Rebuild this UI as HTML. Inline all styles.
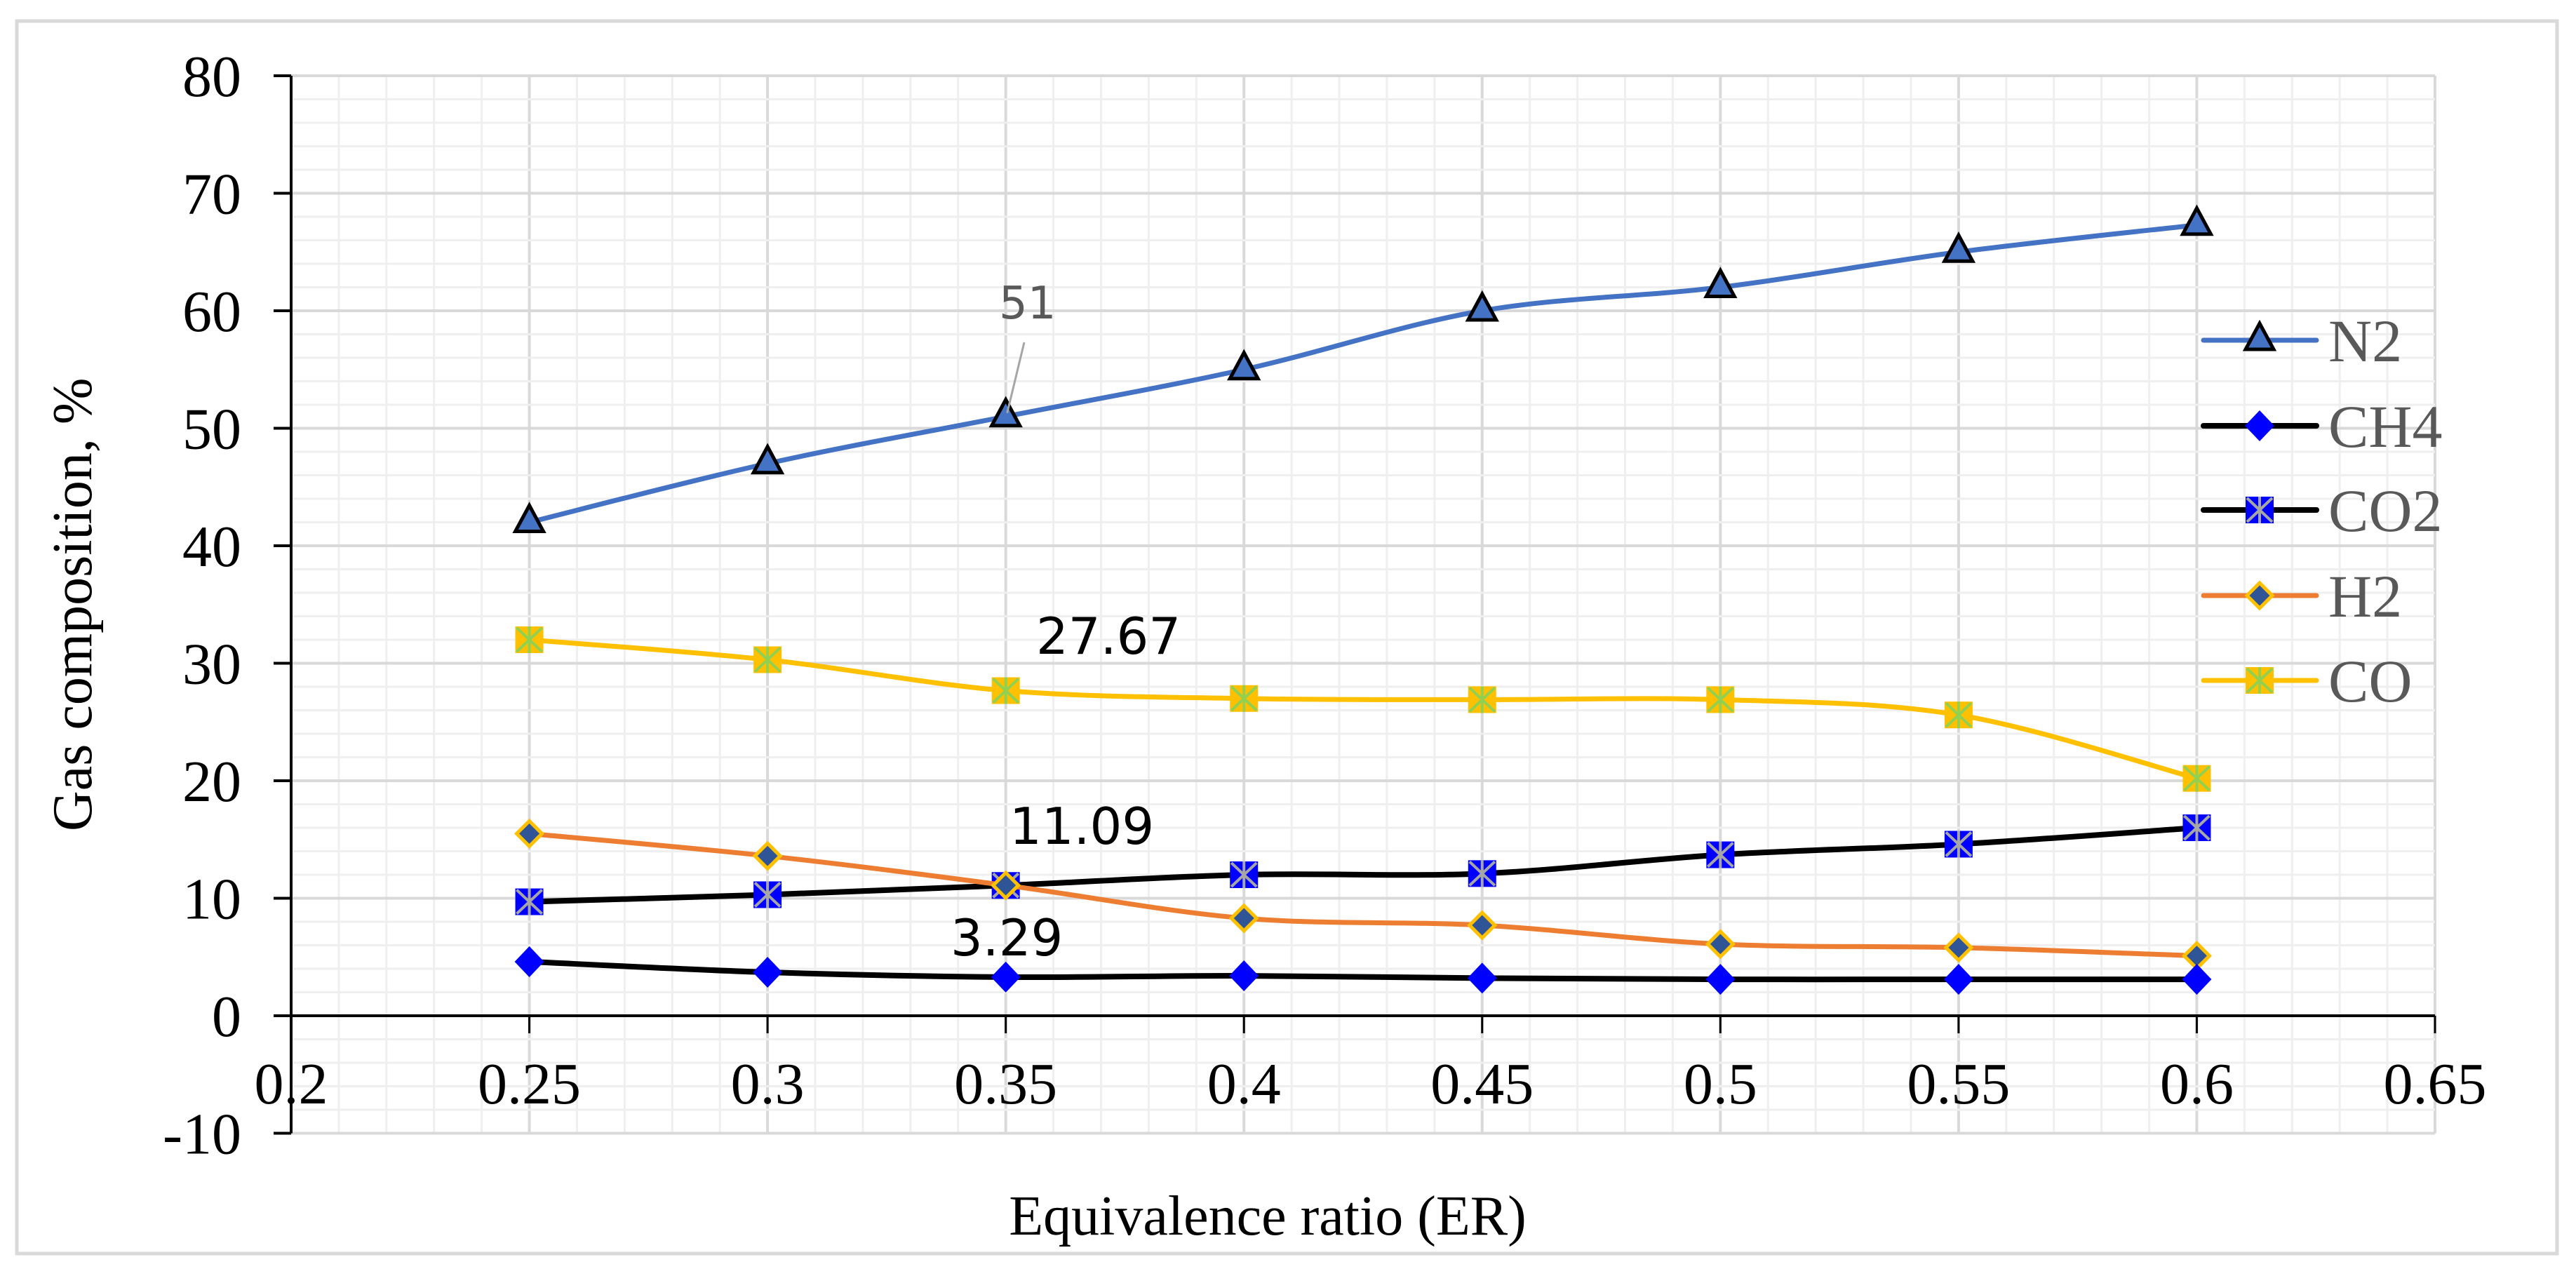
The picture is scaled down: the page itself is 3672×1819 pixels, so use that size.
<!DOCTYPE html>
<html><head><meta charset="utf-8"><style>
html,body{margin:0;padding:0;background:#fff;}
svg{display:block;}
</style></head><body>
<svg id="chart" width="3672" height="1819" viewBox="0 0 3672 1819" xmlns="http://www.w3.org/2000/svg">
<rect x="24" y="30" width="3621" height="1757" fill="#fff" stroke="#d9d9d9" stroke-width="5"/>
<g id="grid"></g>
<g id="axes"></g>
<g id="series"></g>
<g id="labels"></g>
<g id="legend"></g>
</svg>
<script>
const categories = [0.25,0.3,0.35,0.4,0.45,0.5,0.55,0.6];
const seriesNames = ["N2","CH4","CO2","H2","CO"];
const n2 = [42,47,51,55,60,62,65,67.3];
const ch4 = [4.6,3.7,3.29,3.4,3.2,3.1,3.1,3.1];
const co2 = [9.7,10.3,11.09,12,12.1,13.7,14.6,16];
const h2 = [15.5,13.6,11.1,8.3,7.7,6.1,5.8,5.1];
const co = [32,30.3,27.67,27,26.9,26.9,25.6,20.2];
const yTicks = [-10,0,10,20,30,40,50,60,70,80];
const xTicks = ["0.2","0.25","0.3","0.35","0.4","0.45","0.5","0.55","0.6","0.65"];

const NS="http://www.w3.org/2000/svg";
const X0=415, X1=3471, XMIN=0.2, XMAX=0.65;
const Y0=1448, PER=16.75;
function sx(v){return X0+(v-XMIN)/(XMAX-XMIN)*(X1-X0);}
function sy(v){return Y0-v*PER;}
function mk(tag,attrs,parent){const e=document.createElementNS(NS,tag);for(const k in attrs)e.setAttribute(k,attrs[k]);parent.appendChild(e);return e;}
const grid=document.getElementById('grid'),axes=document.getElementById('axes'),ser=document.getElementById('series'),lab=document.getElementById('labels'),leg=document.getElementById('legend');

for(let i=1;i<45;i++){const v=XMIN+i*0.01;const major=(i%5===0);
 const l=mk('line',{x1:sx(v),x2:sx(v),y1:sy(80),y2:sy(-10),stroke:major?'#d9d9d9':'#efefef','stroke-width':major?4:3},grid);
 
 }
{const l=mk('line',{x1:X1,x2:X1,y1:sy(80),y2:sy(-10),stroke:'#d9d9d9','stroke-width':4},grid);
 }
for(let v=-10;v<=80;v+=2){const major=(v%10===0);
 const l=mk('line',{x1:X0,x2:X1,y1:sy(v),y2:sy(v),stroke:major?'#d9d9d9':'#efefef','stroke-width':major?4:3},grid);
 
 }

{const a=mk('line',{x1:X0,x2:X0,y1:sy(80),y2:sy(-10),stroke:'#000','stroke-width':4},axes);

const b=mk('line',{x1:X0,x2:X1,y1:sy(0),y2:sy(0),stroke:'#000','stroke-width':4},axes);
}
yTicks.forEach(v=>{
 const t=mk('line',{x1:X0-25,x2:X0,y1:sy(v),y2:sy(v),stroke:'#000','stroke-width':4},axes);
 
 const tx=mk('text',{x:344,y:sy(v)+29,'text-anchor':'end','font-family':'Liberation Serif, serif','font-size':84,fill:'#000'},axes);
 tx.textContent=String(v);
 });
xTicks.forEach(s=>{const v=parseFloat(s);
 if(v>XMIN+0.001){const t=mk('line',{x1:sx(v),x2:sx(v),y1:sy(0),y2:sy(0)+25,stroke:'#000','stroke-width':3},axes);
 }
 const tx=mk('text',{x:sx(v),y:1573,'text-anchor':'middle','font-family':'Liberation Serif, serif','font-size':84,fill:'#000'},axes);
 tx.textContent=s;
 });
{const t=mk('text',{x:1807,y:1760,'text-anchor':'middle','font-family':'Liberation Serif, serif','font-size':80,fill:'#000'},axes);
t.textContent='Equivalence ratio (ER)';
const u=mk('text',{x:0,y:0,'text-anchor':'middle','font-family':'Liberation Serif, serif','font-size':80,fill:'#000',transform:'translate(130,'+sy(35)+') rotate(-90)'},axes);
u.textContent='Gas composition, %';}

function smoothPath(pts){let d='M'+pts[0][0]+','+pts[0][1];
 for(let i=0;i<pts.length-1;i++){const p0=pts[i-1]||pts[i],p1=pts[i],p2=pts[i+1],p3=pts[i+2]||p2;const k=1/6;
 d+=' C'+(p1[0]+(p2[0]-p0[0])*k)+','+(p1[1]+(p2[1]-p0[1])*k)+' '+(p2[0]-(p3[0]-p1[0])*k)+','+(p2[1]-(p3[1]-p1[1])*k)+' '+p2[0]+','+p2[1];}
 return d;}

function marker(type,x,y,parent){const g=mk('g',{},parent);
 if(type==='tri'){mk('polygon',{points:(x)+','+(y-24)+' '+(x+20)+','+(y+13)+' '+(x-20)+','+(y+13),fill:'#4472C4',stroke:'#000','stroke-width':5,'stroke-linejoin':'miter'},g);}
 else if(type==='dia'){mk('polygon',{points:x+','+(y-22)+' '+(x+21)+','+y+' '+x+','+(y+22)+' '+(x-21)+','+y,fill:'#0000FF'},g);}
 else if(type==='dia2'){mk('polygon',{points:x+','+(y-18)+' '+(x+18)+','+y+' '+x+','+(y+18)+' '+(x-18)+','+y,fill:'#2F5597',stroke:'#FFC000','stroke-width':5},g);}
 else {const fill=type==='sqb'?'#0000FF':'#FFC000',st=type==='sqb'?'#A6A6A6':'#92D050';
  mk('rect',{x:x-20,y:y-19,width:40,height:38,fill:fill},g);
  mk('path',{d:'M'+(x-18)+','+(y-17)+'L'+(x+18)+','+(y+17)+'M'+(x+18)+','+(y-17)+'L'+(x-18)+','+(y+17)+'M'+x+','+(y-19)+'L'+x+','+(y+19),stroke:st,'stroke-width':4},g);}
 return g;}

const defs=[{name:'n2',data:n2,color:'#4472C4',m:'tri',w:7},{name:'ch4',data:ch4,color:'#000',m:'dia',w:8},
 {name:'co2',data:co2,color:'#000',m:'sqb',w:8},{name:'h2',data:h2,color:'#ED7D31',m:'dia2',w:7},{name:'co',data:co,color:'#FFC000',m:'sqy',w:7}];
const drawOrder=[4,2,3,1,0];
drawOrder.forEach(i=>{const s=defs[i];const g=mk('g',{},ser);
 
 const pts=categories.map((c,j)=>[sx(c),sy(s.data[j])]);
 const p=mk('path',{d:smoothPath(pts),fill:'none',stroke:s.color,'stroke-width':s.w,'stroke-linecap':'round'},g);
 
 pts.forEach(pt=>{const m=marker(s.m,pt[0],pt[1],g);
  });});

{const ln=mk('line',{x1:1460,y1:488,x2:sx(0.35)+2,y2:sy(51)-5,stroke:'#A6A6A6','stroke-width':3},lab);

const lbls=[{t:String(n2[2]),x:1424,y:454,fs:64,c:'#595959',n:'label-n2'},{t:co[2].toFixed(2),x:1477,y:932,fs:72,c:'#000',n:'label-co'},
 {t:co2[2].toFixed(2),x:1439,y:1203,fs:72,c:'#000',n:'label-co2'},{t:ch4[2].toFixed(2),x:1355,y:1362,fs:72,c:'#000',n:'label-ch4'}];
lbls.forEach(o=>{const t=mk('text',{x:o.x,y:o.y,'font-family':'DejaVu Sans, Liberation Sans, sans-serif','font-size':o.fs,fill:o.c},lab);
 t.textContent=o.t;});}

const legY=[485,607,727,849,970];
defs.forEach((s,i)=>{const g=mk('g',{},leg);
 
 mk('line',{x1:3141,x2:3302,y1:legY[i],y2:legY[i],stroke:s.color,'stroke-width':s.w,'stroke-linecap':'round'},g);
 marker(s.m,3221,legY[i],g);
 const t=mk('text',{x:3319,y:legY[i]+30,'font-family':'Liberation Serif, serif','font-size':86,fill:'#595959'},g);
 t.textContent=seriesNames[i];});
</script>
</body></html>
